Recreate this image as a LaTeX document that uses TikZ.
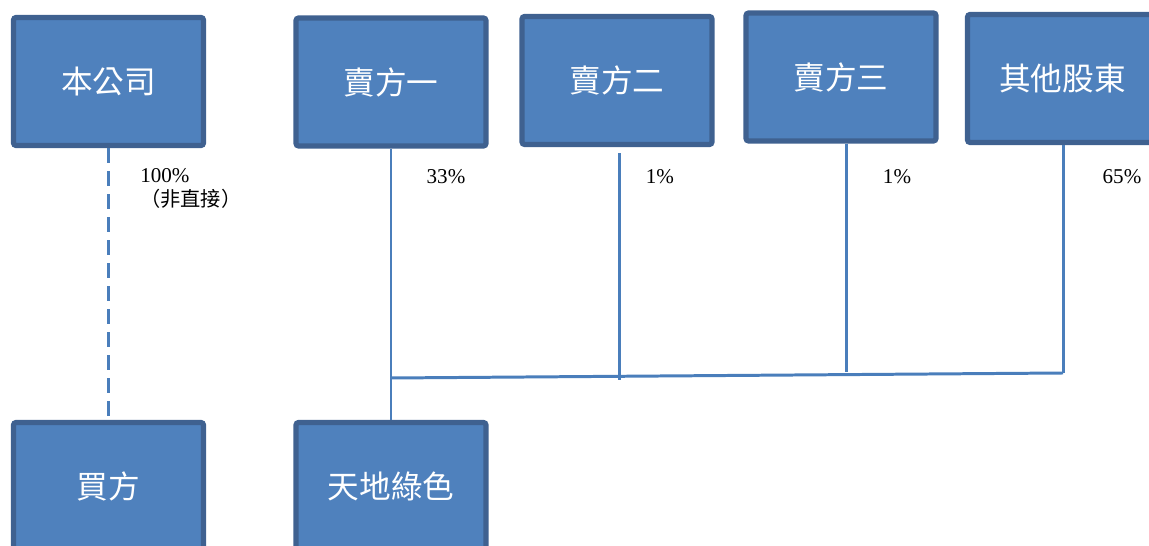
\documentclass[tikz,border=0pt]{standalone}
\usepackage{fontspec}
\setmainfont{Liberation Serif}
\newfontfamily\cjk{Noto Sans CJK TC}
\definecolor{boxfill}{HTML}{4F81BD}
\definecolor{boxline}{HTML}{3F6190}
\definecolor{linkblue}{HTML}{4A7EBB}

\begin{document}
\begin{tikzpicture}[x=0.02cm, y=-0.02cm,
    entity/.style={draw=boxline, fill=boxfill, line width=3pt, rounded corners=1.5pt,
        minimum width=3.8cm, minimum height=2.56cm, text=white, font=\cjk\fontsize{18}{20}\selectfont},
    link/.style={linkblue, line width=1.7pt},
    pct/.style={font=\fontsize{12}{13}\selectfont, inner sep=0pt}]
            \useasboundingbox (0,0) rectangle (1149,546);
            \clip (0,0) rectangle (1149,546);

            \node[entity] (Co) at (108.5,81.5) {本公司};
            \node[entity] (S1) at (391,82) {賣方一};
            \node[entity] (S2) at (617,80.5) {賣方二};
            \node[entity] (S3) at (841,77) {賣方三};
            \node[entity] (Oth) at (1062.5,78.5) {其他股東};
            \node[entity] (Buy) at (108.5,486.5) {買方};
            \node[entity] (Tdl) at (391,486.5) {天地綠色};

            \coordinate (J1) at (391,378);
            \coordinate (J2) at (619,380);
            \coordinate (J3) at (846,372);
            \coordinate (J4) at (1063,373);

            \draw[link, dash pattern=on 0.3cm off 0.16cm] (Co.south) -- (Buy.north);
            \draw[link] (S1.south) -- (Tdl.north);
            \draw[link] (S2.south -| J2) ++(0,6) -- (J2);
            \draw[link] (S3.south -| J3) -- (J3);
            \draw[link] (Oth.south -| J4) -- (J4);
            \draw[link] (J1) -- (J4);

            \node[pct, anchor=north west, align=left] (P0) at (140,168) {100\%\\[1pt]{\cjk\fontsize{11.5}{13}\selectfont （非直接）}};
            \node[pct] (P1) at (446,177) {33\%};
            \node[pct] (P2) at (660,177) {1\%};
            \node[pct] (P3) at (897,177) {1\%};
            \node[pct] (P4) at (1122,177) {65\%};
        \end{tikzpicture}
\end{document}
